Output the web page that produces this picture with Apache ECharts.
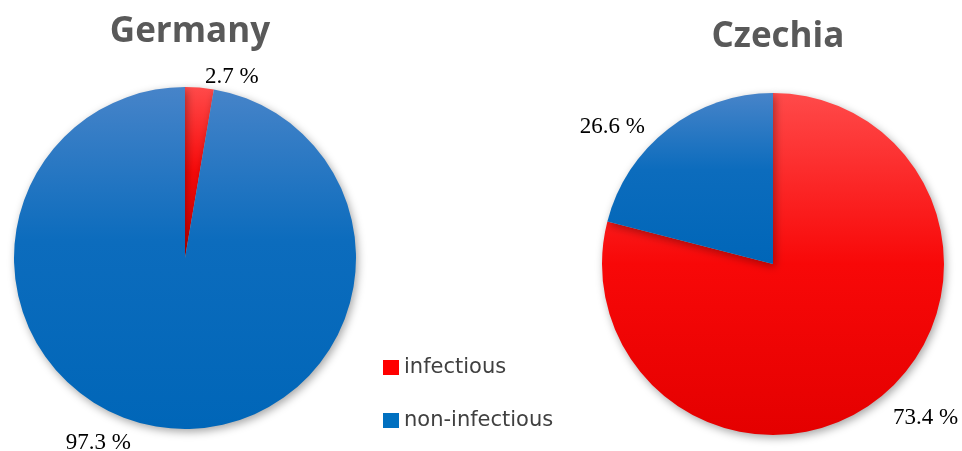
<!DOCTYPE html>
<html>
<head>
<meta charset="utf-8">
<script src="https://cdn.jsdelivr.net/npm/echarts@6/dist/echarts.min.js"></script>
<style>
  html, body { margin: 0; padding: 0; background: #fff; }
  #chart { width: 962px; height: 451px; }
</style>
</head>
<body>
<div id="chart"></div>
<script>
// categories
const categories = ['infectious', 'non-infectious']
const countries = ['Germany', 'Czechia']
// slice sizes as drawn in the picture (percent)
const germanyValues = [2.7, 97.3]
const czechiaValues = [79, 21]
// percent labels as printed on the picture
const germanyLabels = ['2.7 %', '97.3 %']
const czechiaLabels = ['73.4 %', '26.6 %']

// label spots per slice, [x, y, align]
const labelSpots = {
  Germany: [[205, 77, 'left'], [131, 443, 'right']],
  Czechia: [[893, 418, 'left'], [645, 127, 'right']]
}

const redFill = {
  type: 'linear', x: 0, y: 0, x2: 0, y2: 1,
  colorStops: [
    { offset: 0, color: '#ff4a4a' },
    { offset: 0.5, color: '#f80808' },
    { offset: 1, color: '#e40000' }
  ]
}
const blueFill = {
  type: 'linear', x: 0, y: 0, x2: 0, y2: 1,
  colorStops: [
    { offset: 0, color: '#4784c9' },
    { offset: 0.45, color: '#0c6cbd' },
    { offset: 1, color: '#0066b8' }
  ]
}
const fills = [redFill, blueFill]

const makePie = (name, values, labels, center) => ({
  name: name,
  type: 'pie',
  center: center,
  radius: 171,
  startAngle: 90,
  clockwise: true,
  animation: false,
  emphasis: { disabled: true },
  label: {
    show: true,
    formatter: p => labels[p.dataIndex],
    fontFamily: 'Liberation Serif',
    fontSize: 23,
    color: '#000',
    overflow: 'none'
  },
  labelLine: { show: false },
  labelLayout: p => {
    const pos = labelSpots[name][p.dataIndex]
    return { x: pos[0], y: pos[1], align: pos[2], verticalAlign: 'middle', hideOverlap: false }
  },
  itemStyle: {
    borderWidth: 0,
    shadowBlur: 8,
    shadowOffsetX: 2,
    shadowOffsetY: 3,
    shadowColor: 'rgba(0,0,0,0.35)'
  },
  data: values.map((v, i) => ({
    name: categories[i],
    value: v,
    itemStyle: { color: fills[i] }
  }))
})

const chart = echarts.init(document.getElementById('chart'), null, { renderer: 'canvas' })
chart.setOption({
  backgroundColor: '#fff',
  title: [
    {
      text: countries[0], left: 185, top: 10, textAlign: 'center',
      textStyle: { fontFamily: 'Open Sans', fontWeight: 'bold', fontSize: 35, color: '#595959' }
    },
    {
      text: countries[1], left: 773, top: 15, textAlign: 'center',
      textStyle: { fontFamily: 'Open Sans', fontWeight: 'bold', fontSize: 35, color: '#595959' }
    }
  ],
  legend: {
    orient: 'vertical',
    left: 383,
    top: 357,
    padding: 0,
    itemGap: 32,
    itemWidth: 16,
    itemHeight: 15,
    icon: 'rect',
    data: categories.map((c, i) => ({ name: c, itemStyle: { color: i === 0 ? '#ff0000' : '#0070c0' } })),
    textStyle: { fontFamily: 'DejaVu Sans', fontSize: 21, color: '#404040' },
    selectedMode: false
  },
  series: [
    makePie(countries[0], germanyValues, germanyLabels, [185, 258]),
    makePie(countries[1], czechiaValues, czechiaLabels, [773, 264])
  ]
})
</script>
</body>
</html>
